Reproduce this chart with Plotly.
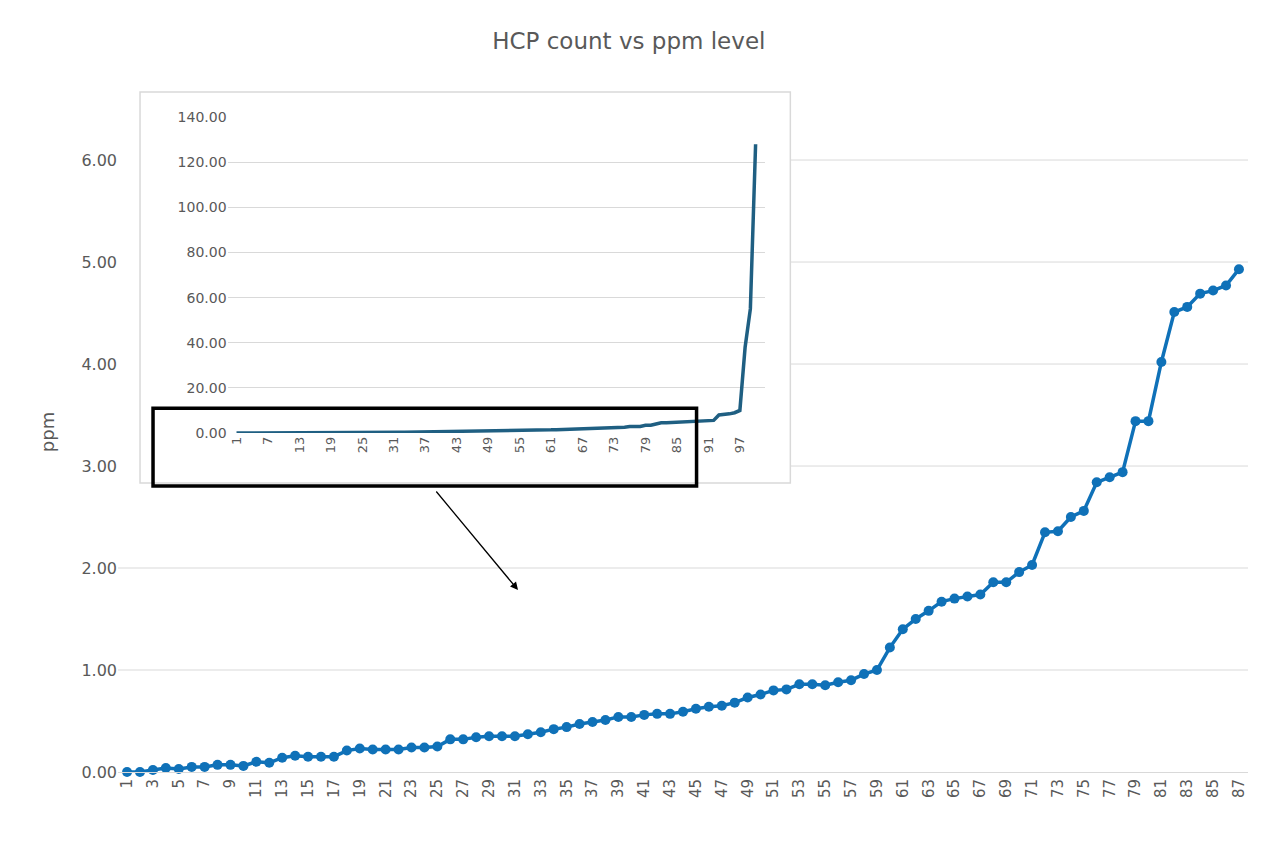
import plotly.graph_objects as go

main_y = [0.00,0.00,0.02,0.04,0.03,0.05,0.05,0.07,0.07,0.06,0.10,0.09,0.14,0.16,0.15,0.15,0.15,0.21,0.23,0.22,
          0.22,0.22,0.24,0.24,0.25,0.32,0.32,0.34,0.35,0.35,0.35,0.37,0.39,0.42,0.44,0.47,0.49,0.51,0.54,0.54,
          0.56,0.57,0.57,0.59,0.62,0.64,0.65,0.68,0.73,0.76,0.80,0.81,0.86,0.86,0.85,0.88,0.90,0.96,1.00,1.22,
          1.40,1.50,1.58,1.67,1.70,1.72,1.74,1.86,1.86,1.96,2.03,2.35,2.36,2.50,2.56,2.84,2.89,2.94,3.44,3.44,
          4.02,4.51,4.56,4.69,4.72,4.77,4.93]
main_x = list(range(1, len(main_y) + 1))
extra_y = [4.95,5.1,5.2,5.3,5.6,8.0,8.2,8.5,9.0,10.0,38.0,55.0,128.0]
inset_y = main_y + extra_y
inset_x = list(range(1, len(inset_y) + 1))
main_ticks = [0, 1, 2, 3, 4, 5, 6]
inset_ticks = [0, 20, 40, 60, 80, 100, 120, 140]
main_xticks = list(range(1, 88, 2))
inset_xticks = list(range(1, 101, 6))

grey = "#595959"
font = "DejaVu Sans"

fig = go.Figure()
fig.add_trace(go.Scatter(x=main_x, y=main_y, mode="lines+markers",
                         line=dict(color="#0f71b8", width=3.5), marker=dict(size=10, color="#0f71b8"),
                         xaxis="x", yaxis="y", showlegend=False, cliponaxis=False))
fig.add_trace(go.Scatter(x=inset_x, y=inset_y, mode="lines",
                         line=dict(color="#1f5f82", width=3.5),
                         xaxis="x2", yaxis="y2", showlegend=False, cliponaxis=False))

shapes = []
shapes.append(dict(type="rect", xref="paper", yref="paper", x0=0.0195, x1=0.595, y0=0.425, y1=1.0,
                   fillcolor="white", line=dict(color="#d9d9d9", width=1.5), layer="below"))
for v in main_ticks[1:]:
    x0 = 0.595 if v >= 3 else 0
    shapes.append(dict(type="line", xref="paper", yref="y", x0=x0, x1=1, y0=v, y1=v,
                       line=dict(color="#d9d9d9", width=1), layer="below"))
shapes.append(dict(type="rect", xref="paper", yref="paper", x0=0.031, x1=0.512, y0=0.4206, y1=0.535,
                   line=dict(color="black", width=3.5), fillcolor="rgba(0,0,0,0)"))

fig.update_layout(
    width=1280, height=853, paper_bgcolor="white", plot_bgcolor="rgba(0,0,0,0)",
    margin=dict(l=110, r=40, t=84, b=89),
    font=dict(family=font, color=grey),
    title=dict(text="HCP count vs ppm level", x=0.485, xref="container", xanchor="center",
               y=0.971, yref="container", font=dict(size=23, color=grey)),
    xaxis=dict(range=[0.3, 87.7], tickvals=main_xticks, tickangle=-90, tickfont=dict(size=15, color=grey),
               showgrid=False, showline=True, linecolor="#d9d9d9", ticks="", zeroline=False),
    yaxis=dict(range=[0, 6.667], tickvals=main_ticks, tickformat=".2f", tickfont=dict(size=16, color=grey),
               showgrid=False, zeroline=False, ticks="", title=dict(text="ppm", font=dict(size=18, color=grey), standoff=22)),
    xaxis2=dict(domain=[0.097, 0.5726], anchor="y2", range=[-0.7, 101.8], tickvals=inset_xticks, tickangle=-90,
                tickfont=dict(size=13, color=grey), showgrid=False, showline=False, zeroline=False, ticks=""),
    yaxis2=dict(domain=[0.4985, 0.963], anchor="x2", range=[0, 140], tickvals=inset_ticks, tickformat=".2f",
                tickfont=dict(size=14, color=grey), showgrid=True, gridcolor="#d9d9d9", zeroline=False, ticks=""),
    shapes=shapes,
    annotations=[dict(x=0.354, y=0.2676, xref="paper", yref="paper", ax=-83, ay=-100, showarrow=True,
                      arrowhead=2, arrowsize=1.2, arrowwidth=1.3, arrowcolor="black", text="")],
)
fig.write_html("out.html")
